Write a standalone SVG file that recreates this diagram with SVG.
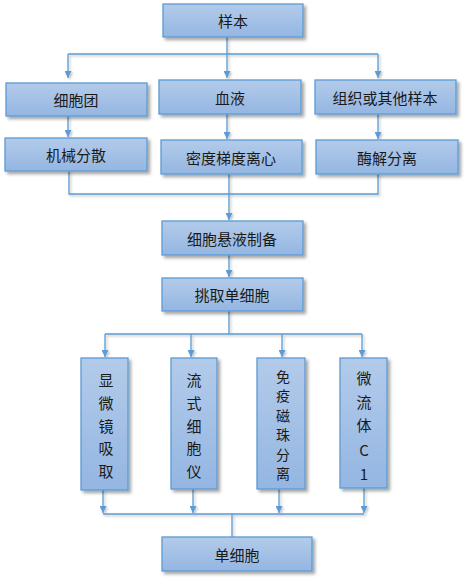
<svg xmlns="http://www.w3.org/2000/svg" width="464" height="580" viewBox="0 0 464 580">
<defs>
<linearGradient id="g" x1="0" y1="0" x2="0" y2="1">
<stop offset="0" stop-color="#b3cbea"/>
<stop offset="1" stop-color="#94b6e2"/>
</linearGradient>
<filter id="sh" x="-20%" y="-20%" width="150%" height="150%">
<feDropShadow dx="2.5" dy="2.5" stdDeviation="1.5" flood-color="#000" flood-opacity="0.35"/>
</filter>
<filter id="lsh" x="-20%" y="-20%" width="150%" height="150%">
<feDropShadow dx="1.5" dy="1.5" stdDeviation="1" flood-color="#000" flood-opacity="0.25"/>
</filter>
<marker id="ah" viewBox="0 0 10 10" refX="10" refY="5" markerWidth="7" markerHeight="7" markerUnits="userSpaceOnUse" orient="auto">
<path d="M0,0 L10,5 L0,10 z" fill="#5b9bd5"/>
</marker>
</defs>
<style>
.box{fill:url(#g);stroke:#5b9bd5;stroke-width:1.3;filter:url(#sh)}
.t{font-family:"Noto Sans CJK SC","Noto Sans",sans-serif;font-size:15px;fill:#1a1a1a;text-anchor:middle;dominant-baseline:central}
.s{font-size:14px}
.c{fill:none;stroke:#5b9bd5;stroke-width:1.3}
.a{marker-end:url(#ah)}
</style>
<g id="connectors" filter="url(#lsh)">
<path class="c" d="M227,37 V54 M68,54 H378"/>
<path class="c a" d="M68,54 V78"/>
<path class="c a" d="M227,54 V78"/>
<path class="c a" d="M378,54 V78"/>
<path class="c a" d="M68,116 V137"/>
<path class="c a" d="M227,114 V139"/>
<path class="c a" d="M378,114 V139"/>
<path class="c" d="M69,171 V194 H378 V174"/>
<path class="c a" d="M229,174 V220"/>
<path class="c a" d="M229,255 V277"/>
<path class="c" d="M229,311 V334 M105,334 H362"/>
<path class="c a" d="M105,334 V357"/>
<path class="c a" d="M191,334 V357"/>
<path class="c a" d="M282,334 V357"/>
<path class="c a" d="M362,334 V357"/>
<path class="c a" d="M103,490 V513"/>
<path class="c a" d="M193,489 V513"/>
<path class="c a" d="M279,489 V513"/>
<path class="c a" d="M364,488 V513"/>
<path class="c" d="M103,514 H364 M232,514 V537"/>
</g>
<g id="n1"><rect class="box" x="163" y="4" width="140" height="33"/><text class="t" x="233" y="20.5">样本</text></g>
<g id="n2"><rect class="box" x="6" y="83" width="141" height="33"/><text class="t" x="76" y="99.5">细胞团</text></g>
<g id="n3"><rect class="box" x="159" y="80" width="142" height="34"/><text class="t" x="230" y="97">血液</text></g>
<g id="n4"><rect class="box" x="315" y="80" width="141" height="34"/><text class="t" x="385" y="97">组织或其他样本</text></g>
<g id="n5"><rect class="box" x="5" y="138" width="142" height="33"/><text class="t" x="76" y="154.5">机械分散</text></g>
<g id="n6"><rect class="box" x="161" y="140" width="141" height="34"/><text class="t" x="231" y="157">密度梯度离心</text></g>
<g id="n7"><rect class="box" x="316" y="140" width="142" height="34"/><text class="t" x="387" y="157">酶解分离</text></g>
<g id="n8"><rect class="box" x="162" y="221" width="141" height="34"/><text class="t" x="232" y="238">细胞悬液制备</text></g>
<g id="n9"><rect class="box" x="162" y="278" width="141" height="33"/><text class="t" x="232" y="294.5">挑取单细胞</text></g>
<g id="n10"><rect class="box" x="81" y="358" width="47" height="132"/>
<text class="t" x="106"><tspan x="106" y="379">显</tspan><tspan x="106" y="402">微</tspan><tspan x="106" y="425">镜</tspan><tspan x="106" y="447">吸</tspan><tspan x="106" y="470">取</tspan></text></g>
<g id="n11"><rect class="box" x="171" y="358" width="46" height="131"/>
<text class="t" x="194"><tspan x="194" y="379">流</tspan><tspan x="194" y="402">式</tspan><tspan x="194" y="425">细</tspan><tspan x="194" y="447">胞</tspan><tspan x="194" y="470">仪</tspan></text></g>
<g id="n12"><rect class="box" x="257" y="358" width="48" height="131"/>
<text class="t s" x="283"><tspan x="283" y="376">免</tspan><tspan x="283" y="395.4">疫</tspan><tspan x="283" y="414.8">磁</tspan><tspan x="283" y="434.2">珠</tspan><tspan x="283" y="453.6">分</tspan><tspan x="283" y="473">离</tspan></text></g>
<g id="n13"><rect class="box" x="340" y="358" width="47" height="130"/>
<text class="t" x="364"><tspan x="364" y="377">微</tspan><tspan x="364" y="401">流</tspan><tspan x="364" y="424">体</tspan><tspan x="364" y="449">C</tspan><tspan x="364" y="473">1</tspan></text></g>
<g id="n14"><rect class="box" x="162" y="537" width="150" height="34"/><text class="t" x="237" y="554">单细胞</text></g>
</svg>
